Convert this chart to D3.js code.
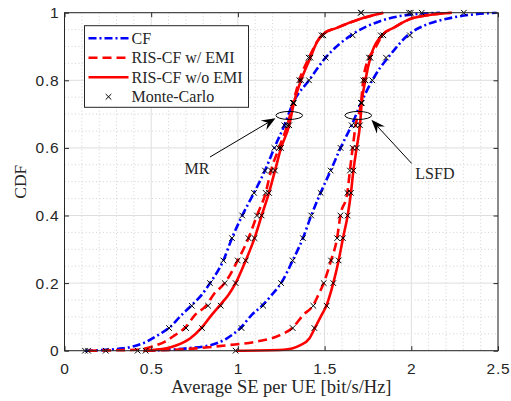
<!DOCTYPE html>
<html>
<head>
<meta charset="utf-8">
<script src="https://cdn.jsdelivr.net/npm/d3@7"></script>
<style>
  body { margin: 0; background: #fff; }
  text { fill: #262626; }
</style>
</head>
<body>
<svg width="511" height="401"></svg>
<script>
// CDF curves, [SE, CDF]
const mrCF = [[0.118,0],[0.337,0.007],[0.474,0.027],[0.539,0.046],[0.604,0.068],[0.676,0.106],[0.734,0.135],[0.791,0.165],[0.839,0.2],[0.916,0.267],[0.966,0.333],[1.025,0.4],[1.093,0.467],[1.156,0.533],[1.210,0.6],[1.268,0.667],[1.318,0.733],[1.410,0.8],[1.506,0.867],[1.664,0.937],[1.819,0.975],[1.935,0.99],[2.166,1]];
const mrWithEMI = [[0.136,0],[0.416,0.003],[0.503,0.012],[0.580,0.027],[0.637,0.046],[0.695,0.068],[0.753,0.106],[0.820,0.135],[0.858,0.165],[0.924,0.2],[0.999,0.267],[1.061,0.333],[1.110,0.4],[1.160,0.467],[1.191,0.533],[1.237,0.6],[1.285,0.667],[1.318,0.733],[1.354,0.8],[1.410,0.867],[1.458,0.915],[1.490,0.937],[1.570,0.955],[1.721,0.984],[1.838,1]];
const mrNoEMI = [[0.454,0],[0.589,0.007],[0.647,0.016],[0.724,0.036],[0.791,0.068],[0.849,0.106],[0.897,0.135],[0.945,0.165],[0.987,0.2],[1.045,0.267],[1.096,0.333],[1.137,0.4],[1.179,0.467],[1.214,0.533],[1.249,0.6],[1.296,0.667],[1.323,0.733],[1.364,0.8],[1.418,0.867],[1.458,0.915],[1.493,0.937],[1.570,0.955],[1.721,0.984],[1.838,1]];
const lsCF = [[0.474,0],[0.705,0.007],[0.839,0.016],[0.935,0.036],[1.016,0.068],[1.080,0.106],[1.143,0.135],[1.195,0.165],[1.249,0.2],[1.316,0.267],[1.375,0.333],[1.423,0.4],[1.477,0.467],[1.535,0.533],[1.592,0.6],[1.656,0.667],[1.710,0.733],[1.775,0.8],[1.819,0.836],[1.866,0.867],[1.983,0.935],[2.089,0.965],[2.223,0.984],[2.358,0.995],[2.492,1]];
const lsWithEMI = [[0.474,0],[0.762,0.007],[0.935,0.016],[1.108,0.027],[1.243,0.046],[1.316,0.068],[1.377,0.106],[1.435,0.135],[1.464,0.165],[1.495,0.2],[1.537,0.267],[1.572,0.333],[1.591,0.4],[1.631,0.467],[1.646,0.533],[1.662,0.6],[1.679,0.667],[1.710,0.733],[1.723,0.8],[1.756,0.867],[1.781,0.886],[1.839,0.937],[1.896,0.955],[2.010,0.984],[2.233,1]];
const lsNoEMI = [[0.987,0],[1.262,0.003],[1.358,0.016],[1.412,0.036],[1.445,0.068],[1.483,0.106],[1.512,0.135],[1.531,0.165],[1.550,0.2],[1.581,0.267],[1.606,0.333],[1.633,0.4],[1.652,0.467],[1.666,0.533],[1.685,0.6],[1.704,0.667],[1.714,0.733],[1.735,0.8],[1.764,0.867],[1.839,0.937],[1.896,0.955],[2.010,0.984],[2.233,1]];

// Monte-Carlo samples: SE values at each CDF level
const mcLevels = [0,0.067,0.133,0.2,0.267,0.333,0.4,0.467,0.533,0.6,0.667,0.733,0.8,0.867,0.933,1];
const mcMrCF = [0.118,0.603,0.734,0.839,0.916,0.966,1.025,1.093,1.156,1.210,1.268,1.318,1.410,1.506,1.662,2.060];
const mcMrWithEMI = [0.136,0.701,0.828,0.924,0.999,1.061,1.110,1.160,1.191,1.237,1.285,1.318,1.354,1.408,1.483,1.710];
const mcMrNoEMI = [0.468,0.793,0.901,0.987,1.045,1.096,1.137,1.179,1.214,1.249,1.296,1.323,1.364,1.418,1.493,1.710];
const mcLsCF = [0.238,1.021,1.146,1.249,1.316,1.375,1.423,1.477,1.535,1.592,1.656,1.710,1.775,1.854,1.992,2.303];
const mcLsWithEMI = [0.422,1.316,1.435,1.495,1.537,1.572,1.591,1.631,1.646,1.662,1.679,1.710,1.723,1.756,1.824,1.987];
const mcLsNoEMI = [0.987,1.441,1.512,1.550,1.581,1.606,1.633,1.652,1.666,1.685,1.704,1.714,1.735,1.764,1.839,1.997];

const xTicks = [0, 0.5, 1, 1.5, 2, 2.5];
const yTicks = [0, 0.2, 0.4, 0.6, 0.8, 1];
const legendLabels = ["CF", "RIS-CF w/ EMI", "RIS-CF w/o EMI", "Monte-Carlo"];

// annotations: label, label pos, arrow tail, arrow tip, ellipse centre
const notes = [
    { label: "MR", text: [0.764, 0.522], from: [0.839, 0.573], to: [1.217, 0.688], ring: [1.296, 0.696] },
    { label: "LSFD", text: [2.136, 0.508], from: [2.002, 0.554], to: [1.770, 0.683], ring: [1.694, 0.696] }
];

let svg = d3.select("svg"),
    margin = { left: 64.5, right: 13, top: 12.7, bottom: 50.3 },
    width = +svg.attr("width") - margin.left - margin.right,
    height = +svg.attr("height") - margin.top - margin.bottom;

let x = d3.scaleLinear().domain([0, 2.5]).range([0, width]);
let y = d3.scaleLinear().domain([0, 1]).range([height, 0]);

let g = svg.append("g").attr("transform", `translate(${margin.left},${margin.top})`);

g.append("rect").attr("width", width).attr("height", height).attr("fill", "#fff");

// minor grid (dotted)
let xMinor = d3.range(0, 2.501, 0.1).filter(v => Math.abs(v * 2 - Math.round(v * 2)) > 1e-6);
let yMinor = d3.range(0, 1.001, 0.05).filter(v => Math.abs(v * 5 - Math.round(v * 5)) > 1e-6);
g.append("g").selectAll("line").data(xMinor).enter().append("line")
    .attr("x1", d => x(d)).attr("x2", d => x(d)).attr("y1", 0).attr("y2", height)
    .attr("stroke", "#c8c8c8").attr("stroke-width", 0.8).attr("stroke-dasharray", "1,2.5");
g.append("g").selectAll("line").data(yMinor).enter().append("line")
    .attr("y1", d => y(d)).attr("y2", d => y(d)).attr("x1", 0).attr("x2", width)
    .attr("stroke", "#c8c8c8").attr("stroke-width", 0.8).attr("stroke-dasharray", "1,2.5");

// major grid
g.append("g").selectAll("line").data(xTicks).enter().append("line")
    .attr("x1", d => x(d)).attr("x2", d => x(d)).attr("y1", 0).attr("y2", height)
    .attr("stroke", "#dedede").attr("stroke-width", 1);
g.append("g").selectAll("line").data(yTicks).enter().append("line")
    .attr("y1", d => y(d)).attr("y2", d => y(d)).attr("x1", 0).attr("x2", width)
    .attr("stroke", "#dedede").attr("stroke-width", 1);

// curves
svg.append("defs").append("clipPath").attr("id", "plot")
    .append("rect").attr("x", -2).attr("y", -1.5).attr("width", width + 4).attr("height", height + 3);

let line = d3.line()
    .x(d => x(d[0]))
    .y(d => y(d[1]))
    .curve(d3.curveMonotoneX);

let series = [
    { data: mrCF, color: "#0000ff", dash: "8,3,2,3" },
    { data: lsCF, color: "#0000ff", dash: "8,3,2,3" },
    { data: mrWithEMI, color: "#ff0000", dash: "9,5" },
    { data: lsWithEMI, color: "#ff0000", dash: "9,5" },
    { data: mrNoEMI, color: "#ff0000", dash: null },
    { data: lsNoEMI, color: "#ff0000", dash: null }
];

let curves = g.append("g").attr("clip-path", "url(#plot)");
curves.selectAll("path").data(series).enter().append("path")
    .attr("d", d => line(d.data))
    .attr("fill", "none")
    .attr("stroke", d => d.color)
    .attr("stroke-width", 2.6)
    .attr("stroke-dasharray", d => d.dash);

// Monte-Carlo markers
let xMark = "M-2.8,-2.8L2.8,2.8M-2.8,2.8L2.8,-2.8";
let mcSets = [mcMrCF, mcMrWithEMI, mcMrNoEMI, mcLsCF, mcLsWithEMI, mcLsNoEMI];
let mcPoints = mcSets.map(s => s.map((v, i) => [v, mcLevels[i]])).flat();
g.append("g").selectAll("path").data(mcPoints).enter().append("path")
    .attr("transform", d => `translate(${x(d[0])},${y(d[1])})`)
    .attr("d", xMark)
    .attr("fill", "none")
    .attr("stroke", "#000")
    .attr("stroke-width", 1);

// axes box and ticks (inside, all four sides)
let tickLen = 4.5;
let axisFont = "'Liberation Sans', Arial, sans-serif";

let xAxis = g.append("g").attr("transform", `translate(0,${height})`)
    .call(d3.axisBottom(x).tickValues(xTicks).tickFormat(d3.format("")).tickSizeInner(-tickLen).tickSizeOuter(0).tickPadding(12));
let yAxis = g.append("g")
    .call(d3.axisLeft(y).tickValues(yTicks).tickFormat(d3.format("")).tickSizeInner(-tickLen).tickSizeOuter(0).tickPadding(5));
g.append("g").call(d3.axisTop(x).tickValues(xTicks).tickFormat("").tickSizeInner(-tickLen).tickSizeOuter(0));
g.append("g").attr("transform", `translate(${width},0)`)
    .call(d3.axisRight(y).tickValues(yTicks).tickFormat("").tickSizeInner(-tickLen).tickSizeOuter(0));

g.selectAll(".domain").remove();
g.selectAll(".tick line").attr("stroke", "#262626").attr("stroke-width", 1);
g.selectAll(".tick text")
    .attr("font-family", axisFont)
    .attr("font-size", 15.5)
    .attr("letter-spacing", 0.8)
    .attr("fill", "#1e1e1e");

g.append("rect").attr("width", width).attr("height", height)
    .attr("fill", "none").attr("stroke", "#262626").attr("stroke-width", 1);

// axis labels
let serif = "'Liberation Serif', 'Times New Roman', serif";
svg.append("text")
    .attr("x", margin.left + width / 2).attr("y", 393)
    .attr("text-anchor", "middle")
    .attr("font-family", serif).attr("font-size", 18.5)
    .text("Average SE per UE [bit/s/Hz]");
svg.append("text")
    .attr("transform", `translate(26,${margin.top + height / 2}) rotate(-90)`)
    .attr("text-anchor", "middle")
    .attr("font-family", serif).attr("font-size", 17.5)
    .text("CDF");

// annotations
let ann = g.append("g");
notes.forEach(n => {
    ann.append("ellipse")
        .attr("cx", x(n.ring[0])).attr("cy", y(n.ring[1]))
        .attr("rx", 13.3).attr("ry", 4)
        .attr("fill", "none").attr("stroke", "#000").attr("stroke-width", 1);

    let x1 = x(n.from[0]), y1 = y(n.from[1]), x2 = x(n.to[0]), y2 = y(n.to[1]);
    let dx = x2 - x1, dy = y2 - y1, len = Math.sqrt(dx * dx + dy * dy);
    let ux = dx / len, uy = dy / len, px = -uy, py = ux;
    let hl = 14, hw = 5.5, notch = 9;
    ann.append("line")
        .attr("x1", x1).attr("y1", y1)
        .attr("x2", x2 - ux * notch).attr("y2", y2 - uy * notch)
        .attr("stroke", "#000").attr("stroke-width", 1);
    let head = [
        [x2, y2],
        [x2 - ux * hl + px * hw, y2 - uy * hl + py * hw],
        [x2 - ux * notch, y2 - uy * notch],
        [x2 - ux * hl - px * hw, y2 - uy * hl - py * hw]
    ];
    ann.append("path")
        .attr("d", "M" + head.join("L") + "Z")
        .attr("fill", "#000");

    ann.append("text")
        .attr("x", x(n.text[0])).attr("y", y(n.text[1]))
        .attr("text-anchor", "middle")
        .attr("font-family", serif).attr("font-size", 16)
        .attr("fill", "#000")
        .text(n.label);
});

// legend
let legend = svg.append("g").attr("transform", "translate(84.5,25.7)");
legend.append("rect")
    .attr("width", 164).attr("height", 81.6)
    .attr("fill", "#fff").attr("stroke", "#262626").attr("stroke-width", 1);

let legendItems = [
    { color: "#0000ff", dash: "8,3,2,3", line: true },
    { color: "#ff0000", dash: "9,5", line: true },
    { color: "#ff0000", dash: null, line: true },
    { color: "#000", dash: null, line: false }
];

legendItems.forEach((item, i) => {
    let cy = 12.6 + i * 19.5;
    if (item.line) {
        legend.append("line")
            .attr("x1", 4).attr("x2", 44).attr("y1", cy).attr("y2", cy)
            .attr("stroke", item.color).attr("stroke-width", 2.6)
            .attr("stroke-dasharray", item.dash);
    } else {
        legend.append("path")
            .attr("transform", `translate(24,${cy})`)
            .attr("d", xMark)
            .attr("fill", "none").attr("stroke", "#000").attr("stroke-width", 1);
    }
    legend.append("text")
        .attr("x", 47).attr("y", cy + 5.5)
        .attr("font-family", serif).attr("font-size", 16)
        .attr("fill", "#000")
        .text(legendLabels[i]);
});
</script>
</body>
</html>
